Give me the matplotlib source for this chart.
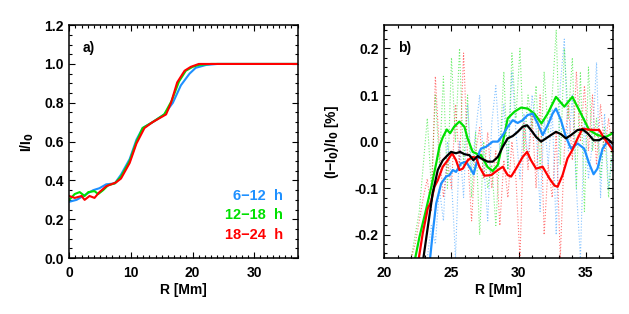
import numpy as np
import matplotlib
matplotlib.use('Agg')
import matplotlib.pyplot as plt
from matplotlib.ticker import MultipleLocator, FormatStrFormatter

plt.rcParams['font.family'] = ['Liberation Sans', 'DejaVu Sans']
plt.rcParams['font.weight'] = 'bold'
plt.rcParams['axes.labelweight'] = 'bold'
plt.rcParams['mathtext.default'] = 'bf'
plt.rcParams['font.size'] = 10

BLUE = '#1e90ff'
GREEN = '#00e000'
RED = '#ff0000'

# ---- panel a: radial intensity profiles I/I0
r_blue_a = [0, 1.2, 2.8, 3.9, 4.9, 6.0, 7.4, 8.4, 9.8, 10.9, 11.9, 13.5, 15.4, 16.8, 18.1, 19.5, 20.5, 22.2, 24, 37]
i_blue_a = [0.29, 0.30, 0.33, 0.35, 0.36, 0.38, 0.385, 0.43, 0.51, 0.61, 0.67, 0.70, 0.74, 0.80, 0.89, 0.95, 0.98, 0.995, 1.0, 1.0]

r_green_a = [0, 0.9, 1.7, 2.5, 3.1, 4.1, 4.7, 5.5, 6.3, 7.4, 8.4, 9.8, 10.9, 11.9, 13.5, 15.4, 16.6, 17.8, 18.9, 20.0, 21.0, 23, 37]
i_green_a = [0.30, 0.33, 0.34, 0.32, 0.34, 0.345, 0.33, 0.35, 0.375, 0.385, 0.42, 0.50, 0.60, 0.67, 0.70, 0.74, 0.81, 0.91, 0.965, 0.985, 0.995, 1.0, 1.0]

r_red_a = [0, 0.9, 2.0, 2.5, 3.3, 4.1, 4.9, 6.0, 7.6, 8.4, 9.8, 10.9, 12.2, 13.5, 15.7, 16.5, 17.5, 18.7, 19.7, 21.0, 37]
i_red_a = [0.32, 0.31, 0.32, 0.30, 0.32, 0.31, 0.34, 0.37, 0.39, 0.41, 0.49, 0.59, 0.67, 0.70, 0.74, 0.80, 0.905, 0.965, 0.985, 1.0, 1.0]

labels_a = ['6\u221212  h', '12\u221218  h', '18\u221224  h']

# ---- panel b: relative deviation, smoothed (solid)
r_green_b = [22.3, 22.62, 23.1, 23.5, 23.86, 24.1, 24.35, 24.65, 24.9, 25.2, 25.59, 25.96, 26.2, 26.58, 26.95, 27.2, 27.7,
             28.07, 28.45, 28.8, 29.19, 29.68, 30.18, 30.67, 31.17, 31.7, 32.16, 32.78, 33.4, 34.0, 34.64, 35.25, 35.87, 36.5, 37.0]
d_green_b = [-0.25, -0.204, -0.147, -0.097, -0.047, -0.011, 0.009, 0.026, 0.018, 0.032, 0.043, 0.032, 0.007, -0.022, -0.027, -0.029, -0.055,
             -0.063, -0.05, -0.004, 0.05, 0.064, 0.073, 0.071, 0.06, 0.039, 0.06, 0.096, 0.075, 0.096, 0.06, 0.025, 0.014, 0.01, 0.018]

r_blue_b = [23.41, 23.6, 23.86, 24.23, 24.6, 24.85, 25.1, 25.34, 25.7, 26.08, 26.33, 26.65, 27.08, 27.2, 27.58, 28.07, 28.45, 28.82,
            29.19, 29.56, 29.93, 30.3, 30.67, 31.05, 31.42, 31.79, 32.16, 32.53, 32.78, 33.15, 33.52, 33.9, 34.39, 34.88, 35.25,
            35.58, 35.87, 36.25, 36.62, 37.0]
d_blue_b = [-0.25, -0.197, -0.133, -0.09, -0.075, -0.072, -0.061, -0.065, -0.047, -0.043, -0.054, -0.07, -0.022, -0.015, -0.011, 0.0, 0.0, 0.014,
            0.032, 0.046, 0.04, 0.046, 0.057, 0.06, 0.039, 0.014, 0.035, 0.06, 0.071, 0.046, 0.01, -0.015, -0.004, -0.015, -0.047,
            -0.07, -0.058, -0.015, 0.0, -0.015]

r_red_b = [22.57, 22.86, 23.24, 23.48, 23.73, 23.98, 24.35, 24.72, 25.05, 25.34, 25.59, 25.84, 26.21, 26.58, 26.85, 27.08, 27.45, 27.95,
           28.45, 28.82, 29.19, 29.44, 29.81, 30.3, 30.63, 30.92, 31.3, 31.79, 32.29, 32.66, 32.9, 33.27, 33.64, 34.0, 34.39, 34.76,
           35.13, 35.63, 36.0, 36.37, 36.74, 37.0]
d_red_b = [-0.25, -0.197, -0.143, -0.129, -0.097, -0.083, -0.054, -0.04, -0.025, -0.04, -0.061, -0.058, -0.04, -0.033, -0.035, -0.054, -0.073, -0.072,
           -0.061, -0.054, -0.072, -0.075, -0.058, -0.033, -0.022, -0.04, -0.058, -0.054, -0.079, -0.094, -0.097, -0.072, -0.036, -0.018, 0.007, 0.028,
           0.026, 0.025, 0.025, 0.007, -0.007, -0.018]

r_black_b = [22.91, 23.24, 23.6, 23.98, 24.35, 24.72, 24.97, 25.34, 25.64, 25.96, 26.33, 26.63, 26.95, 27.2, 27.7, 28.07, 28.45, 28.82,
             29.19, 29.56, 29.93, 30.3, 30.63, 30.92, 31.3, 31.67, 32.04, 32.4, 32.78, 33.15, 33.52, 33.9, 34.39, 34.76, 35.13,
             35.58, 36.0, 36.37, 36.74, 37.0]
d_black_b = [-0.25, -0.183, -0.111, -0.061, -0.04, -0.029, -0.022, -0.025, -0.022, -0.027, -0.029, -0.04, -0.031, -0.036, -0.043, -0.043, -0.033, -0.011,
             0.007, 0.012, 0.021, 0.032, 0.035, 0.025, 0.01, 0.0, 0.007, 0.014, 0.021, 0.016, 0.007, 0.014, 0.025, 0.026, 0.018,
             0.003, 0.003, 0.01, 0.003, -0.004]

# ---- panel b: unsmoothed deviations (dotted), sampled every 0.3 Mm
r_dot = [22.0, 22.3, 22.6, 22.9, 23.2, 23.5, 23.8, 24.1, 24.4, 24.7, 25.0, 25.3, 25.6, 25.9, 26.2, 26.5, 26.8, 27.1, 27.4, 27.7,
         28.0, 28.3, 28.6, 28.9, 29.2, 29.5, 29.8, 30.1, 30.4, 30.7, 31.0, 31.3, 31.6, 31.9, 32.2, 32.5, 32.8, 33.1, 33.4, 33.7,
         34.0, 34.3, 34.6, 34.9, 35.2, 35.5, 35.8, 36.1, 36.4, 36.7, 37.0]
d_green_dot = [-0.25, -0.2, -0.15, -0.05, 0.05, -0.1, 0.1, -0.05, 0.14, -0.1, 0.18, 0.0, 0.2, -0.05, 0.1, -0.12, 0.02, -0.2, 0.0, -0.1,
               -0.05, -0.18, -0.02, 0.15, -0.06, 0.19, 0.05, 0.2, -0.02, 0.1, 0.03, 0.12, -0.06, 0.15, 0.02, 0.1, 0.24, -0.05, 0.2, 0.05,
               0.18, -0.1, 0.15, -0.15, 0.16, -0.02, 0.05, -0.08, 0.03, -0.12, 0.02]
d_red_dot = [-0.25, -0.22, -0.17, -0.12, -0.08, -0.15, 0.14, -0.02, -0.12, -0.04, -0.1, 0.08, -0.05, 0.19, -0.03, -0.17, -0.02, 0.03, -0.08, 0.02,
             -0.1, -0.02, -0.18, -0.04, -0.12, 0.0, -0.08, -0.25, 0.04, -0.06, 0.06, -0.1, 0.1, -0.2, -0.05, -0.12, 0.02, -0.25, -0.02, 0.08,
             -0.04, 0.15, 0.0, 0.12, -0.02, 0.1, -0.05, 0.08, -0.02, 0.05, -0.03]
d_blue_dot = [np.nan, np.nan, np.nan, np.nan, -0.25, -0.18, -0.22, -0.1, -0.17, 0.0, -0.08, -0.25, 0.0, -0.12, 0.08, -0.06, 0.02, 0.1, -0.05, -0.17,
              0.04, 0.12, -0.02, 0.08, -0.06, 0.15, 0.02, -0.08, 0.06, -0.04, 0.1, 0.03, -0.15, 0.05, -0.05, 0.07, -0.2, 0.12, 0.22, -0.02,
              0.1, -0.1, -0.25, 0.05, -0.08, 0.0, 0.17, -0.12, 0.06, -0.1, -0.02]

fig = plt.figure(figsize=(6.29, 3.14), dpi=100)
ax1 = fig.add_axes([0.110, 0.178, 0.363, 0.742])
ax2 = fig.add_axes([0.611, 0.178, 0.363, 0.742])

for ax in (ax1, ax2):
    ax.tick_params(which='both', direction='in', top=True, right=True, width=0.8)
    ax.tick_params(which='major', length=4)
    ax.tick_params(which='minor', length=2)
    ax.tick_params(axis='x', pad=6)
    ax.tick_params(axis='y', pad=4)
    for s in ax.spines.values():
        s.set_linewidth(1.1)

# panel a
ax1.plot(r_blue_a, i_blue_a, color=BLUE, lw=1.5)
ax1.plot(r_green_a, i_green_a, color=GREEN, lw=1.5)
ax1.plot(r_red_a, i_red_a, color=RED, lw=1.5)
ax1.set_xlim(0, 37)
ax1.set_ylim(0, 1.2)
ax1.xaxis.set_major_locator(MultipleLocator(10))
ax1.xaxis.set_minor_locator(MultipleLocator(1))
ax1.yaxis.set_major_locator(MultipleLocator(0.2))
ax1.yaxis.set_minor_locator(MultipleLocator(0.05))
ax1.yaxis.set_major_formatter(FormatStrFormatter('%.1f'))
ax1.set_xlabel('R [Mm]', labelpad=2)
ax1.set_ylabel('I/I$_0$', labelpad=6)
ax1.text(0.06, 0.90, 'a)', transform=ax1.transAxes, va='center')
for lab, col, yy in zip(labels_a, [BLUE, GREEN, RED], [0.266, 0.183, 0.100]):
    ax1.text(0.935, yy, lab, color=col, transform=ax1.transAxes, ha='right', va='center', fontsize=10.5)

# panel b
ax2.plot(r_dot, d_blue_dot, color=BLUE, lw=0.8, ls=':', alpha=0.55)
ax2.plot(r_dot, d_green_dot, color=GREEN, lw=0.8, ls=':', alpha=0.55)
ax2.plot(r_dot, d_red_dot, color=RED, lw=0.8, ls=':', alpha=0.55)
ax2.plot(r_green_b, d_green_b, color=GREEN, lw=1.6)
ax2.plot(r_blue_b, d_blue_b, color=BLUE, lw=1.6)
ax2.plot(r_red_b, d_red_b, color=RED, lw=1.6)
ax2.plot(r_black_b, d_black_b, color='black', lw=1.6)
ax2.set_xlim(20, 37)
ax2.set_ylim(-0.25, 0.25)
ax2.xaxis.set_major_locator(MultipleLocator(5))
ax2.xaxis.set_minor_locator(MultipleLocator(1))
ax2.yaxis.set_major_locator(MultipleLocator(0.1))
ax2.yaxis.set_minor_locator(MultipleLocator(0.02))
ax2.yaxis.set_major_formatter(FormatStrFormatter('%.1f'))
ax2.set_xlabel('R [Mm]', labelpad=2)
ax2.set_ylabel('(I\u2212I$_0$)/I$_0$ [%]', labelpad=10)
ax2.text(0.06, 0.90, 'b)', transform=ax2.transAxes, va='center')

fig.savefig('out.png', dpi=100)
